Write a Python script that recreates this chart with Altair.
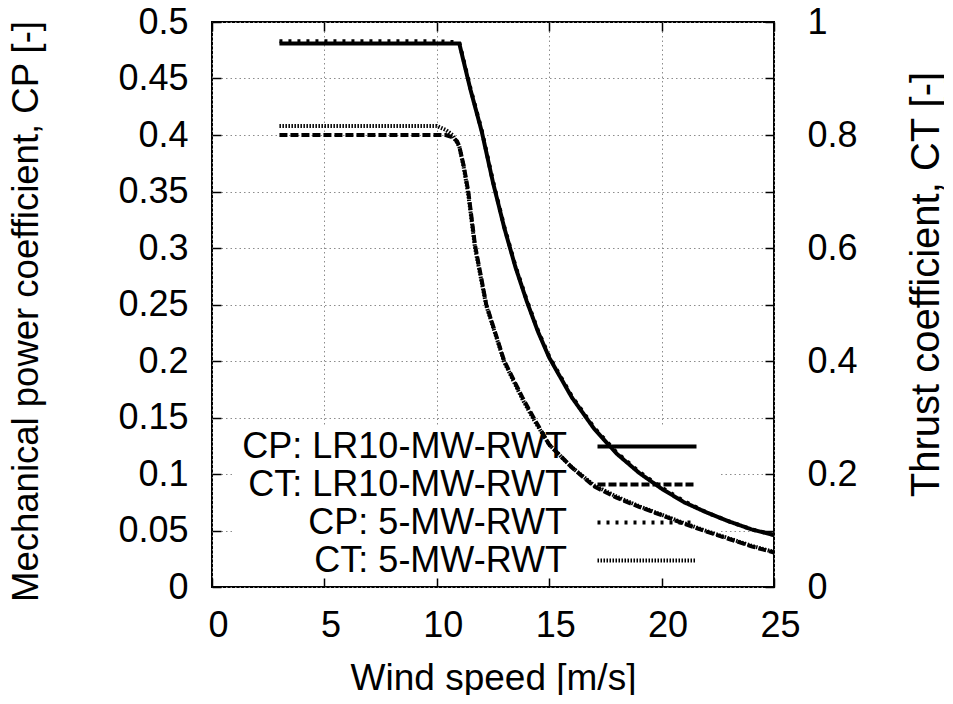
import altair as alt
import pandas as pd

# ---------------- data ----------------
series_names = ["CP: LR10-MW-RWT", "CT: LR10-MW-RWT", "CP: 5-MW-RWT", "CT: 5-MW-RWT"]

ws_cp = [3, 4, 5, 6, 7, 8, 9, 10, 11, 11.5, 12, 12.5, 13, 13.5, 14, 14.5, 15,
         16, 17, 18, 19, 20, 21, 22, 23, 24, 25]
cp_lr10 = [0.481, 0.481, 0.481, 0.481, 0.481, 0.481, 0.481, 0.481, 0.481, 0.440,
           0.403, 0.358, 0.318, 0.283, 0.253, 0.226, 0.203, 0.168, 0.140, 0.118,
           0.101, 0.087, 0.075, 0.066, 0.058, 0.051, 0.046]
cp_5mw = [0.483, 0.483, 0.483, 0.483, 0.483, 0.483, 0.483, 0.483, 0.482, 0.441,
          0.404, 0.359, 0.319, 0.284, 0.254, 0.227, 0.204, 0.169, 0.141, 0.119,
          0.102, 0.088, 0.076, 0.066, 0.058, 0.051, 0.046]

ws_ct_lr10 = [3, 4, 5, 6, 7, 8, 9, 10, 10.4, 10.7, 10.9, 11.0, 11.2, 11.4, 11.7,
              12.2, 13.0, 13.8, 14.3, 15, 16, 17, 18, 19, 20, 21, 22, 23, 24, 25]
ct_lr10 = [0.800, 0.800, 0.800, 0.800, 0.800, 0.800, 0.800, 0.800, 0.800, 0.796,
           0.789, 0.780, 0.745, 0.700, 0.605, 0.500, 0.400, 0.336, 0.300, 0.252,
           0.212, 0.178, 0.158, 0.142, 0.127, 0.112, 0.098, 0.085, 0.072, 0.061]

ws_ct_5mw = [3, 4, 5, 6, 7, 8, 9, 10, 10.4, 10.7, 11.0, 11.2, 11.4, 11.7, 12.2,
             13.0, 13.8, 14.3, 15, 16, 17, 18, 19, 20, 21, 22, 23, 24, 25]
ct_5mw = [0.816, 0.816, 0.816, 0.816, 0.816, 0.816, 0.816, 0.816, 0.809, 0.800,
          0.780, 0.742, 0.695, 0.600, 0.498, 0.398, 0.333, 0.297, 0.252, 0.212,
          0.180, 0.160, 0.143, 0.128, 0.113, 0.099, 0.086, 0.073, 0.062]

x_ticks = [0, 5, 10, 15, 20, 25]
cp_ticks = [0, 0.05, 0.1, 0.15, 0.2, 0.25, 0.3, 0.35, 0.4, 0.45, 0.5]
ct_ticks = [0, 0.1, 0.2, 0.3, 0.4, 0.5, 0.6, 0.7, 0.8, 0.9, 1.0]

dash_range = [[1, 0], [8, 3], [3, 6], [1.5, 1.5]]
width_range = [4, 4, 3.5, 3.5]

# ---------------- tables ----------------
cp_df = pd.concat([
    pd.DataFrame({"ws": ws_cp, "value": cp_5mw, "series": series_names[2]}),
    pd.DataFrame({"ws": ws_cp, "value": cp_lr10, "series": series_names[0]}),
], ignore_index=True)
ct_df = pd.concat([
    pd.DataFrame({"ws": ws_ct_5mw, "value": ct_5mw, "series": series_names[3]}),
    pd.DataFrame({"ws": ws_ct_lr10, "value": ct_lr10, "series": series_names[1]}),
], ignore_index=True)

FONT = "Liberation Sans"
FS = 36

dash_scale = alt.Scale(domain=series_names, range=dash_range)
width_scale = alt.Scale(domain=series_names, range=width_range)
x_scale = alt.Scale(domain=[0, 25], nice=False, zero=False)

# key sample: a long horizontal stroke (custom path, 3 units each side)
legend = alt.Legend(
    title=None, orient="none", legendX=0, legendY=406,
    symbolType="M-3,0H3", symbolSize=1089, symbolStrokeColor="black",
    symbolFillColor="transparent",
    labelAlign="right", labelBaseline="middle",
    labelOffset={"expr": "-98.5"}, symbolOffset=416.5,
    labelFont=FONT, labelFontSize=FS, labelColor="black", labelLimit=0,
    rowPadding=1, padding=0,
)

common_axis = dict(
    domain=False, offset=-9, tickSize=9, tickWidth=1.5, tickColor="black",
    labelFont=FONT, labelFontSize=FS, labelColor="black",
    labelFlush=False, labelOverlap=False,
    titleFont=FONT, titleColor="black", titleFontWeight="normal",
)

grid_style = dict(gridColor="#8c8c8c", gridDash=[1.5, 3], gridWidth=1)

# white panel behind the key (hides the grid there)
box = alt.Chart(pd.DataFrame({"k": [0]})).mark_rect(color="white").encode(
    x=alt.value(23), x2=alt.value(506), y=alt.value(405), y2=alt.value(556)
)

ct_layer = alt.Chart(ct_df).mark_line(color="black", strokeCap="butt").encode(
    x=alt.X("ws:Q", scale=x_scale,
            axis=alt.Axis(orient="top", values=x_ticks, labels=False, grid=False,
                          title=None, **common_axis)),
    y=alt.Y("value:Q", scale=alt.Scale(domain=[0, 1], nice=False, zero=False),
            axis=alt.Axis(orient="right", values=ct_ticks, grid=False,
                          labelExpr="(round(datum.value*10)%2==0) ? format(datum.value,'~g') : ''",
                          labelPadding=33,
                          title="Thrust coefficient, CT [-]", titleAngle=270,
                          titleFontSize=40,
                          titleX=173, titleY=262, titleAlign="center",
                          titleBaseline="alphabetic", **common_axis)),
    strokeDash=alt.StrokeDash("series:N", scale=dash_scale, legend=legend),
    strokeWidth=alt.StrokeWidth("series:N", scale=width_scale, legend=legend),
)

cp_layer = alt.Chart(cp_df).mark_line(color="black", strokeCap="butt").encode(
    x=alt.X("ws:Q", scale=x_scale,
            axis=alt.Axis(orient="bottom", values=x_ticks, format="d", grid=True,
                          labelPadding=21, labelOffset=6,
                          title="Wind speed [m/s]", titleFontSize=37,
                          titleX=281, titleY=111,
                          titleAlign="center", titleBaseline="alphabetic",
                          **grid_style, **common_axis)),
    y=alt.Y("value:Q", scale=alt.Scale(domain=[0, 0.5], nice=False, zero=False),
            axis=alt.Axis(orient="left", values=cp_ticks, format=".2~f", grid=True,
                          labelPadding=24,
                          title="Mechanical power coefficient, CP [-]", titleAngle=270,
                          titleFontSize=36.5,
                          titleX=-184, titleY=289, titleAlign="center",
                          titleBaseline="alphabetic", **grid_style, **common_axis)),
    strokeDash=alt.StrokeDash("series:N", scale=dash_scale, legend=legend),
    strokeWidth=alt.StrokeWidth("series:N", scale=width_scale, legend=legend),
)

chart = (
    alt.layer(box, ct_layer, cp_layer)
    .resolve_scale(y="independent")
    .resolve_axis(x="independent", y="independent")
    .properties(
        width=562, height=565,
        padding={"left": 204, "top": 14, "right": 170, "bottom": 108},
        autosize=alt.AutoSizeParams(type="none"),
        background="white",
    )
    .configure_view(stroke="black", strokeWidth=2)
)

chart.save("out.html", embed_options={"renderer": "svg", "actions": False})
